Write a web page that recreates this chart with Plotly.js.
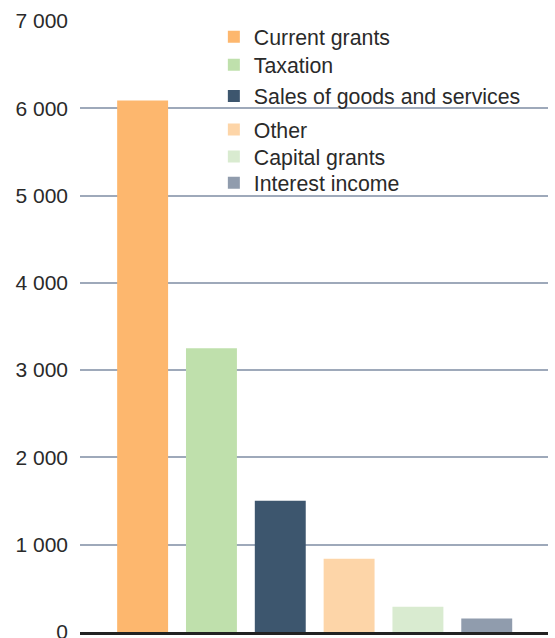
<!DOCTYPE html>
<html>
<head>
<meta charset="utf-8">
<script src="https://cdn.plot.ly/plotly-3.0.1.min.js"></script>
<style>html,body{margin:0;padding:0;background:#fff;}#chart{width:555px;height:638px;}</style>
</head>
<body>
<div id="chart"></div>
<script>
const categories = ["Current grants", "Taxation", "Sales of goods and services", "Other", "Capital grants", "Interest income"];
const values = [6090, 3250, 1505, 840, 290, 155];
const colors = ["#fdb76e", "#bfe0ac", "#3d566e", "#fdd5a8", "#d9ebd0", "#909cad"];
const tickValues = [0, 1000, 2000, 3000, 4000, 5000, 6000, 7000];

const legendY = [0.974, 0.928, 0.877, 0.822, 0.778, 0.735];

const traces = categories.map((c, i) => ({
  type: "bar",
  name: c,
  x: [c],
  y: [values[i]],
  marker: {color: colors[i]},
  width: 0.74,
  legend: i === 0 ? "legend" : "legend" + (i + 1),
  hoverinfo: "skip"
}));

const layout = {
  width: 555,
  height: 638,
  margin: {l: 80, r: 7, t: 21, b: 6},
  paper_bgcolor: "#fff",
  plot_bgcolor: "#fff",
  separators: ". ",
  font: {family: "'Liberation Sans', Arial, sans-serif", size: 21, color: "#2a2a2a"},
  barmode: "overlay",
  xaxis: {
    type: "category",
    categoryarray: categories,
    range: [-0.91, 5.89],
    showticklabels: false,
    showgrid: false,
    zeroline: false,
    showline: true,
    linecolor: "#222",
    linewidth: 3,
    ticks: ""
  },
  yaxis: {
    range: [0, 7000],
    tickvals: tickValues,
    tickformat: ",d",
    showgrid: true,
    gridcolor: "#9ea9ba",
    gridwidth: 2,
    zeroline: false,
    showline: false,
    ticks: "",
    ticklabelstandoff: 11,
    ticklabeloverflow: "allow",
    tickfont: {size: 21, color: "#2a2a2a"}
  },
  showlegend: true
};

legendY.forEach((y, i) => {
  const key = i === 0 ? "legend" : "legend" + (i + 1);
  layout[key] = {
    x: 0.286, xref: "paper", xanchor: "left",
    y: y, yref: "paper", yanchor: "middle",
    bgcolor: "rgba(0,0,0,0)",
    borderwidth: 0,
    font: {size: 21.3, color: "#2a2a2a"},
    itemclick: false,
    itemdoubleclick: false
  };
});

Plotly.newPlot("chart", traces, layout, {staticPlot: true, displayModeBar: false});
</script>
</body>
</html>
